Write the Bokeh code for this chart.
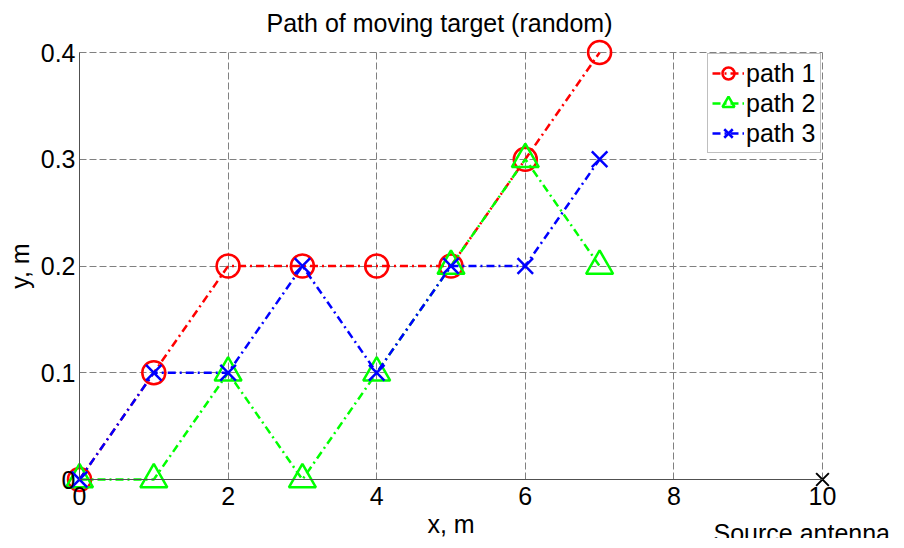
import math
from bokeh.plotting import figure
from bokeh.models import Range1d, FixedTicker, Label
from bokeh.embed import file_html
from bokeh.resources import INLINE

x_vals = [0, 1, 2, 3, 4, 5, 6, 7]
path1 = [0, 0.1, 0.2, 0.2, 0.2, 0.2, 0.3, 0.4]
path2 = [0, 0, 0.1, 0, 0.1, 0.2, 0.3, 0.2]
path3 = [0, 0.1, 0.1, 0.2, 0.1, 0.2, 0.2, 0.3]
source_x = [10]
source_y = [0]
x_ticks = [0, 2, 4, 6, 8, 10]
y_ticks = [0, 0.1, 0.2, 0.3, 0.4]
y_tick_labels = ["0", "0.1", "0.2", "0.3", "0.4"]

FONT = "Liberation Sans"
FS = "25px"

W, H = 896, 538
# axes box in canvas pixels
AX_L, AX_R, AX_T, AX_B = 79, 822, 52, 479
X0, X1, Y0, Y1 = 0, 10, 0, 0.4
kx = (AX_R - AX_L) / (X1 - X0)
ky = (AX_B - AX_T) / (Y1 - Y0)
xr = Range1d(X0 - AX_L / kx, X1 + (W - AX_R) / kx)
yr = Range1d(Y0 - (H - AX_B) / ky, Y1 + AX_T / ky)

p = figure(frame_width=W, frame_height=H, output_backend="svg", toolbar_location=None,
           x_range=xr, y_range=yr, min_border=0)
p.outline_line_color = None

for ax in (p.xaxis[0], p.yaxis[0]):
    ax.axis_line_color = "#505050"
    ax.major_tick_line_color = None
    ax.major_tick_in = 0
    ax.major_tick_out = 0
    ax.minor_tick_line_color = None
    ax.major_label_text_font = FONT
    ax.major_label_text_font_size = FS
    ax.major_label_text_color = "black"

p.xaxis.ticker = FixedTicker(ticks=x_ticks)
p.yaxis.ticker = FixedTicker(ticks=y_ticks)
p.yaxis.major_label_overrides = {t: l for t, l in zip(y_ticks, y_tick_labels)}
p.xaxis.fixed_location = Y0
p.yaxis.fixed_location = X0
p.xaxis.bounds = (X0, X1)
p.yaxis.bounds = (Y0, Y1)
p.xaxis.major_label_standoff = 7
p.yaxis.major_label_standoff = 4

for g, b, cb in ((p.xgrid[0], (X0, X1), (Y0, Y1)), (p.ygrid[0], (Y0, Y1), (X0, X1))):
    g.grid_line_color = "#808080"
    g.grid_line_dash = "7 3"
    g.grid_line_width = 1
    g.bounds = b
    g.cross_bounds = cb

dash = "8 4 2 4"
lw = 2.5
p.line(x_vals, path1, color="#FF0000", line_width=lw, line_dash=dash, legend_label="path 1")
p.scatter(x_vals, path1, marker="circle", size=23, line_color="#FF0000", fill_color=None,
          line_width=2.5, legend_label="path 1")
p.line(x_vals, path2, color="#00FF00", line_width=lw, line_dash=dash, legend_label="path 2")
p.scatter(x_vals, path2, marker="triangle", size=27, line_color="#00FF00", fill_color=None,
          line_width=2.5, legend_label="path 2")
p.line(x_vals, path3, color="#0000FF", line_width=lw, line_dash=dash, legend_label="path 3")
p.scatter(x_vals, path3, marker="x", size=22, line_color="#0000FF",
          line_width=2.5, legend_label="path 3")
p.scatter(source_x, source_y, marker="x", size=18, line_color="black", line_width=2)

SHIFT = 9  # empirical label anchor correction

def lab(text, x, y, dx, dy, align="center", baseline="alphabetic", angle=0.0):
    p.add_layout(Label(x=x, y=y, x_offset=dx, y_offset=dy, text=text, angle=angle,
                       text_font=FONT, text_font_size=FS, text_color="black",
                       text_align=align, text_baseline=baseline))

lab("Path of moving target (random)", X0, Y1, 439 - AX_L, AX_T - 31 + SHIFT)
lab("x, m", (X0 + X1) / 2, Y0, 0, -(532 - AX_B) + SHIFT)
lab("y, m", X0, (Y0 + Y1) / 2, 28 - AX_L - SHIFT, 0, angle=math.pi / 2)
lab("Source antenna", X1, Y0, 713 - AX_R, -(541 - AX_B) + SHIFT, align="left")

lg = p.legend[0]
LG_H = 98
lg.location = (707, H - 55 - LG_H)
lg.margin = 0
lg.padding = 4
lg.spacing = 0
lg.label_standoff = 2
lg.glyph_width = 32
lg.glyph_height = 30
lg.label_height = 30
lg.label_text_font = FONT
lg.label_text_font_size = FS
lg.label_text_color = "black"
lg.border_line_color = "#808080"
lg.border_line_width = 1
lg.background_fill_alpha = 1

open("out.html", "w").write(file_html(p, INLINE))
